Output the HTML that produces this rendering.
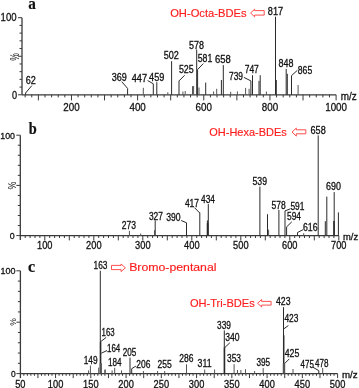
<!DOCTYPE html>
<html><head><meta charset="utf-8"><style>
html,body{margin:0;padding:0;background:#fff;}
svg{display:block;will-change:transform;}
</style></head><body>
<svg width="359" height="388" viewBox="0 0 359 388" shape-rendering="auto">
<rect width="359" height="388" fill="#fff"/>
<line x1="22.00" y1="17.70" x2="22.00" y2="94.80" stroke="#3a3a3a" stroke-width="1.3"/>
<line x1="19.50" y1="87.09" x2="22.00" y2="87.09" stroke="#3a3a3a" stroke-width="1"/>
<line x1="19.50" y1="79.38" x2="22.00" y2="79.38" stroke="#3a3a3a" stroke-width="1"/>
<line x1="19.50" y1="71.67" x2="22.00" y2="71.67" stroke="#3a3a3a" stroke-width="1"/>
<line x1="19.50" y1="63.96" x2="22.00" y2="63.96" stroke="#3a3a3a" stroke-width="1"/>
<line x1="18.00" y1="56.25" x2="22.00" y2="56.25" stroke="#3a3a3a" stroke-width="1"/>
<line x1="19.50" y1="48.54" x2="22.00" y2="48.54" stroke="#3a3a3a" stroke-width="1"/>
<line x1="19.50" y1="40.83" x2="22.00" y2="40.83" stroke="#3a3a3a" stroke-width="1"/>
<line x1="19.50" y1="33.12" x2="22.00" y2="33.12" stroke="#3a3a3a" stroke-width="1"/>
<line x1="19.50" y1="25.41" x2="22.00" y2="25.41" stroke="#3a3a3a" stroke-width="1"/>
<line x1="18.00" y1="17.70" x2="22.00" y2="17.70" stroke="#3a3a3a" stroke-width="1"/>
<line x1="18.00" y1="94.80" x2="22.00" y2="94.80" stroke="#3a3a3a" stroke-width="1"/>
<line x1="22.00" y1="94.80" x2="336.10" y2="94.80" stroke="#3a3a3a" stroke-width="1.3"/>
<line x1="25.15" y1="94.80" x2="25.15" y2="97.40" stroke="#3a3a3a" stroke-width="1"/>
<line x1="31.76" y1="94.80" x2="31.76" y2="97.40" stroke="#3a3a3a" stroke-width="1"/>
<line x1="38.38" y1="94.80" x2="38.38" y2="100.40" stroke="#3a3a3a" stroke-width="1"/>
<line x1="45.00" y1="94.80" x2="45.00" y2="97.40" stroke="#3a3a3a" stroke-width="1"/>
<line x1="51.61" y1="94.80" x2="51.61" y2="97.40" stroke="#3a3a3a" stroke-width="1"/>
<line x1="58.23" y1="94.80" x2="58.23" y2="97.40" stroke="#3a3a3a" stroke-width="1"/>
<line x1="64.84" y1="94.80" x2="64.84" y2="97.40" stroke="#3a3a3a" stroke-width="1"/>
<line x1="71.46" y1="94.80" x2="71.46" y2="100.40" stroke="#3a3a3a" stroke-width="1"/>
<line x1="78.08" y1="94.80" x2="78.08" y2="97.40" stroke="#3a3a3a" stroke-width="1"/>
<line x1="84.69" y1="94.80" x2="84.69" y2="97.40" stroke="#3a3a3a" stroke-width="1"/>
<line x1="91.31" y1="94.80" x2="91.31" y2="97.40" stroke="#3a3a3a" stroke-width="1"/>
<line x1="97.92" y1="94.80" x2="97.92" y2="97.40" stroke="#3a3a3a" stroke-width="1"/>
<line x1="104.54" y1="94.80" x2="104.54" y2="100.40" stroke="#3a3a3a" stroke-width="1"/>
<line x1="111.16" y1="94.80" x2="111.16" y2="97.40" stroke="#3a3a3a" stroke-width="1"/>
<line x1="117.77" y1="94.80" x2="117.77" y2="97.40" stroke="#3a3a3a" stroke-width="1"/>
<line x1="124.39" y1="94.80" x2="124.39" y2="97.40" stroke="#3a3a3a" stroke-width="1"/>
<line x1="131.00" y1="94.80" x2="131.00" y2="97.40" stroke="#3a3a3a" stroke-width="1"/>
<line x1="137.62" y1="94.80" x2="137.62" y2="100.40" stroke="#3a3a3a" stroke-width="1"/>
<line x1="144.24" y1="94.80" x2="144.24" y2="97.40" stroke="#3a3a3a" stroke-width="1"/>
<line x1="150.85" y1="94.80" x2="150.85" y2="97.40" stroke="#3a3a3a" stroke-width="1"/>
<line x1="157.47" y1="94.80" x2="157.47" y2="97.40" stroke="#3a3a3a" stroke-width="1"/>
<line x1="164.08" y1="94.80" x2="164.08" y2="97.40" stroke="#3a3a3a" stroke-width="1"/>
<line x1="170.70" y1="94.80" x2="170.70" y2="100.40" stroke="#3a3a3a" stroke-width="1"/>
<line x1="177.32" y1="94.80" x2="177.32" y2="97.40" stroke="#3a3a3a" stroke-width="1"/>
<line x1="183.93" y1="94.80" x2="183.93" y2="97.40" stroke="#3a3a3a" stroke-width="1"/>
<line x1="190.55" y1="94.80" x2="190.55" y2="97.40" stroke="#3a3a3a" stroke-width="1"/>
<line x1="197.16" y1="94.80" x2="197.16" y2="97.40" stroke="#3a3a3a" stroke-width="1"/>
<line x1="203.78" y1="94.80" x2="203.78" y2="100.40" stroke="#3a3a3a" stroke-width="1"/>
<line x1="210.40" y1="94.80" x2="210.40" y2="97.40" stroke="#3a3a3a" stroke-width="1"/>
<line x1="217.01" y1="94.80" x2="217.01" y2="97.40" stroke="#3a3a3a" stroke-width="1"/>
<line x1="223.63" y1="94.80" x2="223.63" y2="97.40" stroke="#3a3a3a" stroke-width="1"/>
<line x1="230.24" y1="94.80" x2="230.24" y2="97.40" stroke="#3a3a3a" stroke-width="1"/>
<line x1="236.86" y1="94.80" x2="236.86" y2="100.40" stroke="#3a3a3a" stroke-width="1"/>
<line x1="243.48" y1="94.80" x2="243.48" y2="97.40" stroke="#3a3a3a" stroke-width="1"/>
<line x1="250.09" y1="94.80" x2="250.09" y2="97.40" stroke="#3a3a3a" stroke-width="1"/>
<line x1="256.71" y1="94.80" x2="256.71" y2="97.40" stroke="#3a3a3a" stroke-width="1"/>
<line x1="263.32" y1="94.80" x2="263.32" y2="97.40" stroke="#3a3a3a" stroke-width="1"/>
<line x1="269.94" y1="94.80" x2="269.94" y2="100.40" stroke="#3a3a3a" stroke-width="1"/>
<line x1="276.56" y1="94.80" x2="276.56" y2="97.40" stroke="#3a3a3a" stroke-width="1"/>
<line x1="283.17" y1="94.80" x2="283.17" y2="97.40" stroke="#3a3a3a" stroke-width="1"/>
<line x1="289.79" y1="94.80" x2="289.79" y2="97.40" stroke="#3a3a3a" stroke-width="1"/>
<line x1="296.40" y1="94.80" x2="296.40" y2="97.40" stroke="#3a3a3a" stroke-width="1"/>
<line x1="303.02" y1="94.80" x2="303.02" y2="100.40" stroke="#3a3a3a" stroke-width="1"/>
<line x1="309.64" y1="94.80" x2="309.64" y2="97.40" stroke="#3a3a3a" stroke-width="1"/>
<line x1="316.25" y1="94.80" x2="316.25" y2="97.40" stroke="#3a3a3a" stroke-width="1"/>
<line x1="322.87" y1="94.80" x2="322.87" y2="97.40" stroke="#3a3a3a" stroke-width="1"/>
<line x1="329.48" y1="94.80" x2="329.48" y2="97.40" stroke="#3a3a3a" stroke-width="1"/>
<line x1="336.10" y1="94.80" x2="336.10" y2="100.40" stroke="#3a3a3a" stroke-width="1"/>
<text x="63.28" y="110.60" font-family="Liberation Sans" font-size="11.73" font-weight="normal" fill="#111" stroke="#111" stroke-width="0.3" textLength="16.35" lengthAdjust="spacingAndGlyphs">200</text>
<text x="129.44" y="110.60" font-family="Liberation Sans" font-size="11.73" font-weight="normal" fill="#111" stroke="#111" stroke-width="0.3" textLength="16.35" lengthAdjust="spacingAndGlyphs">400</text>
<text x="195.60" y="110.60" font-family="Liberation Sans" font-size="11.73" font-weight="normal" fill="#111" stroke="#111" stroke-width="0.3" textLength="16.35" lengthAdjust="spacingAndGlyphs">600</text>
<text x="261.76" y="110.60" font-family="Liberation Sans" font-size="11.73" font-weight="normal" fill="#111" stroke="#111" stroke-width="0.3" textLength="16.35" lengthAdjust="spacingAndGlyphs">800</text>
<text x="325.20" y="110.60" font-family="Liberation Sans" font-size="11.73" font-weight="normal" fill="#111" stroke="#111" stroke-width="0.3" textLength="21.80" lengthAdjust="spacingAndGlyphs">1000</text>
<text x="0.60" y="21.20" font-family="Liberation Sans" font-size="11.45" font-weight="normal" fill="#111" stroke="#111" stroke-width="0.3" textLength="16.00" lengthAdjust="spacingAndGlyphs">100</text>
<text x="11.90" y="98.60" font-family="Liberation Sans" font-size="11.17" font-weight="normal" fill="#111" stroke="#111" stroke-width="0.3" textLength="5.10" lengthAdjust="spacingAndGlyphs">0</text>
<text transform="translate(18.7,57.0) rotate(-90)" font-family="Liberation Sans" font-size="12.1" fill="#111" x="-3.80" y="0" textLength="7.6" lengthAdjust="spacingAndGlyphs">%</text>
<text x="340.80" y="99.80" font-family="Liberation Sans" font-size="11" font-weight="normal" fill="#111" stroke="#111" stroke-width="0.3" textLength="16.00" lengthAdjust="spacingAndGlyphs">m/z</text>
<text x="28.30" y="8.50" font-family="Liberation Serif" font-size="16.5" font-weight="bold" fill="#111" stroke="#111" stroke-width="0.2" textLength="7.60" lengthAdjust="spacingAndGlyphs">a</text>
<line x1="143.30" y1="87.80" x2="143.30" y2="94.80" stroke="#555" stroke-width="1.0"/>
<line x1="156.80" y1="82.20" x2="156.80" y2="94.80" stroke="#2a2a2a" stroke-width="1.0"/>
<line x1="167.80" y1="92.30" x2="167.80" y2="94.80" stroke="#555" stroke-width="1.0"/>
<line x1="171.60" y1="61.20" x2="171.60" y2="94.80" stroke="#2a2a2a" stroke-width="1.0"/>
<line x1="182.90" y1="91.50" x2="182.90" y2="94.80" stroke="#555" stroke-width="1.0"/>
<line x1="185.20" y1="91.00" x2="185.20" y2="94.80" stroke="#555" stroke-width="1.0"/>
<line x1="192.50" y1="86.20" x2="192.50" y2="94.80" stroke="#555" stroke-width="1.0"/>
<line x1="193.60" y1="86.00" x2="193.60" y2="94.80" stroke="#555" stroke-width="1.0"/>
<line x1="196.70" y1="49.60" x2="196.70" y2="94.80" stroke="#2a2a2a" stroke-width="1.0"/>
<line x1="199.00" y1="87.50" x2="199.00" y2="94.80" stroke="#555" stroke-width="1.0"/>
<line x1="205.70" y1="82.60" x2="205.70" y2="94.80" stroke="#2a2a2a" stroke-width="1.0"/>
<line x1="213.60" y1="91.40" x2="213.60" y2="94.80" stroke="#555" stroke-width="1.0"/>
<line x1="216.70" y1="88.80" x2="216.70" y2="94.80" stroke="#555" stroke-width="1.0"/>
<line x1="221.40" y1="80.00" x2="221.40" y2="94.80" stroke="#2a2a2a" stroke-width="1.0"/>
<line x1="223.30" y1="65.10" x2="223.30" y2="94.80" stroke="#2a2a2a" stroke-width="1.0"/>
<line x1="230.70" y1="91.80" x2="230.70" y2="94.80" stroke="#555" stroke-width="1.0"/>
<line x1="237.40" y1="91.40" x2="237.40" y2="94.80" stroke="#555" stroke-width="1.0"/>
<line x1="245.60" y1="87.90" x2="245.60" y2="94.80" stroke="#555" stroke-width="1.0"/>
<line x1="249.10" y1="88.80" x2="249.10" y2="94.80" stroke="#555" stroke-width="1.0"/>
<line x1="252.50" y1="75.20" x2="252.50" y2="94.80" stroke="#2a2a2a" stroke-width="1.0"/>
<line x1="259.00" y1="80.80" x2="259.00" y2="94.80" stroke="#2a2a2a" stroke-width="1.0"/>
<line x1="260.20" y1="75.20" x2="260.20" y2="94.80" stroke="#2a2a2a" stroke-width="1.0"/>
<line x1="266.40" y1="91.50" x2="266.40" y2="94.80" stroke="#555" stroke-width="1.0"/>
<line x1="276.30" y1="80.00" x2="276.30" y2="94.80" stroke="#2a2a2a" stroke-width="1.0"/>
<line x1="275.50" y1="16.70" x2="275.50" y2="94.80" stroke="#2a2a2a" stroke-width="1.0"/>
<line x1="286.20" y1="68.90" x2="286.20" y2="94.80" stroke="#2a2a2a" stroke-width="1.0"/>
<line x1="287.30" y1="73.80" x2="287.30" y2="94.80" stroke="#2a2a2a" stroke-width="1.0"/>
<line x1="298.10" y1="85.00" x2="298.10" y2="94.80" stroke="#555" stroke-width="1.0"/>
<polyline points="31.80,85.60 25.60,93.00 25.60,94.80" fill="none" stroke="#2a2a2a" stroke-width="1.0"/>
<polyline points="121.70,81.70 127.60,88.40 127.60,94.80" fill="none" stroke="#2a2a2a" stroke-width="1.0"/>
<polyline points="147.60,80.50 153.30,83.80 153.30,94.80" fill="none" stroke="#2a2a2a" stroke-width="1.0"/>
<polyline points="184.60,75.30 179.00,80.90 179.00,94.80" fill="none" stroke="#2a2a2a" stroke-width="1.0"/>
<polyline points="203.30,63.60 197.60,69.50 197.60,94.80" fill="none" stroke="#2a2a2a" stroke-width="1.0"/>
<polyline points="243.90,77.40 250.90,80.90 250.90,94.80" fill="none" stroke="#2a2a2a" stroke-width="1.0"/>
<polyline points="297.40,70.30 291.50,75.60 291.50,94.80" fill="none" stroke="#2a2a2a" stroke-width="1.0"/>
<text x="25.80" y="84.45" font-family="Liberation Sans" font-size="10.2" font-weight="normal" fill="#111" stroke="#111" stroke-width="0.3" textLength="10.10" lengthAdjust="spacingAndGlyphs">62</text>
<text x="111.70" y="80.60" font-family="Liberation Sans" font-size="10.2" font-weight="normal" fill="#111" stroke="#111" stroke-width="0.3" textLength="15.10" lengthAdjust="spacingAndGlyphs">369</text>
<text x="131.70" y="82.30" font-family="Liberation Sans" font-size="10.2" font-weight="normal" fill="#111" stroke="#111" stroke-width="0.3" textLength="15.30" lengthAdjust="spacingAndGlyphs">447</text>
<text x="149.10" y="80.95" font-family="Liberation Sans" font-size="10.2" font-weight="normal" fill="#111" stroke="#111" stroke-width="0.3" textLength="15.30" lengthAdjust="spacingAndGlyphs">459</text>
<text x="163.80" y="59.10" font-family="Liberation Sans" font-size="10.2" font-weight="normal" fill="#111" stroke="#111" stroke-width="0.3" textLength="15.10" lengthAdjust="spacingAndGlyphs">502</text>
<text x="178.90" y="72.95" font-family="Liberation Sans" font-size="10.2" font-weight="normal" fill="#111" stroke="#111" stroke-width="0.3" textLength="14.80" lengthAdjust="spacingAndGlyphs">525</text>
<text x="189.00" y="48.80" font-family="Liberation Sans" font-size="10.2" font-weight="normal" fill="#111" stroke="#111" stroke-width="0.3" textLength="14.90" lengthAdjust="spacingAndGlyphs">578</text>
<text x="197.70" y="62.00" font-family="Liberation Sans" font-size="10.2" font-weight="normal" fill="#111" stroke="#111" stroke-width="0.3" textLength="14.60" lengthAdjust="spacingAndGlyphs">581</text>
<text x="214.90" y="63.30" font-family="Liberation Sans" font-size="10.2" font-weight="normal" fill="#111" stroke="#111" stroke-width="0.3" textLength="15.80" lengthAdjust="spacingAndGlyphs">658</text>
<text x="229.00" y="79.50" font-family="Liberation Sans" font-size="10.2" font-weight="normal" fill="#111" stroke="#111" stroke-width="0.3" textLength="14.00" lengthAdjust="spacingAndGlyphs">739</text>
<text x="244.70" y="73.40" font-family="Liberation Sans" font-size="10.2" font-weight="normal" fill="#111" stroke="#111" stroke-width="0.3" textLength="14.10" lengthAdjust="spacingAndGlyphs">747</text>
<text x="267.80" y="15.45" font-family="Liberation Sans" font-size="10.2" font-weight="normal" fill="#111" stroke="#111" stroke-width="0.3" textLength="15.30" lengthAdjust="spacingAndGlyphs">817</text>
<text x="278.60" y="67.00" font-family="Liberation Sans" font-size="10.2" font-weight="normal" fill="#111" stroke="#111" stroke-width="0.3" textLength="14.90" lengthAdjust="spacingAndGlyphs">848</text>
<text x="297.80" y="74.30" font-family="Liberation Sans" font-size="10.2" font-weight="normal" fill="#111" stroke="#111" stroke-width="0.3" textLength="14.40" lengthAdjust="spacingAndGlyphs">865</text>
<text x="170.20" y="16.60" font-family="Liberation Sans" font-size="11.3" font-weight="normal" fill="#ff1c1c" stroke="#ff1c1c" stroke-width="0.15" textLength="76.30" lengthAdjust="spacingAndGlyphs">OH-Octa-BDEs</text>
<polygon points="250.60,13.00 254.60,9.20 254.60,10.60 264.20,10.60 264.20,15.10 254.60,15.10 254.60,16.80" fill="#fff" stroke="#ff3a3a" stroke-width="0.9" stroke-linejoin="miter"/>
<line x1="20.30" y1="135.20" x2="20.30" y2="240.10" stroke="#3a3a3a" stroke-width="1.3"/>
<line x1="17.80" y1="225.56" x2="20.30" y2="225.56" stroke="#3a3a3a" stroke-width="1"/>
<line x1="17.80" y1="215.52" x2="20.30" y2="215.52" stroke="#3a3a3a" stroke-width="1"/>
<line x1="17.80" y1="205.48" x2="20.30" y2="205.48" stroke="#3a3a3a" stroke-width="1"/>
<line x1="17.80" y1="195.44" x2="20.30" y2="195.44" stroke="#3a3a3a" stroke-width="1"/>
<line x1="16.30" y1="185.40" x2="20.30" y2="185.40" stroke="#3a3a3a" stroke-width="1"/>
<line x1="17.80" y1="175.36" x2="20.30" y2="175.36" stroke="#3a3a3a" stroke-width="1"/>
<line x1="17.80" y1="165.32" x2="20.30" y2="165.32" stroke="#3a3a3a" stroke-width="1"/>
<line x1="17.80" y1="155.28" x2="20.30" y2="155.28" stroke="#3a3a3a" stroke-width="1"/>
<line x1="17.80" y1="145.24" x2="20.30" y2="145.24" stroke="#3a3a3a" stroke-width="1"/>
<line x1="16.30" y1="135.20" x2="20.30" y2="135.20" stroke="#3a3a3a" stroke-width="1"/>
<line x1="16.30" y1="235.60" x2="20.30" y2="235.60" stroke="#3a3a3a" stroke-width="1"/>
<line x1="20.30" y1="235.60" x2="338.80" y2="235.60" stroke="#3a3a3a" stroke-width="1.3"/>
<line x1="25.20" y1="235.60" x2="25.20" y2="238.00" stroke="#3a3a3a" stroke-width="1"/>
<line x1="30.10" y1="235.60" x2="30.10" y2="238.00" stroke="#3a3a3a" stroke-width="1"/>
<line x1="35.00" y1="235.60" x2="35.00" y2="238.00" stroke="#3a3a3a" stroke-width="1"/>
<line x1="39.90" y1="235.60" x2="39.90" y2="238.00" stroke="#3a3a3a" stroke-width="1"/>
<line x1="44.80" y1="235.60" x2="44.80" y2="240.40" stroke="#3a3a3a" stroke-width="1"/>
<line x1="49.70" y1="235.60" x2="49.70" y2="238.00" stroke="#3a3a3a" stroke-width="1"/>
<line x1="54.60" y1="235.60" x2="54.60" y2="238.00" stroke="#3a3a3a" stroke-width="1"/>
<line x1="59.50" y1="235.60" x2="59.50" y2="238.00" stroke="#3a3a3a" stroke-width="1"/>
<line x1="64.40" y1="235.60" x2="64.40" y2="238.00" stroke="#3a3a3a" stroke-width="1"/>
<line x1="69.30" y1="235.60" x2="69.30" y2="240.40" stroke="#3a3a3a" stroke-width="1"/>
<line x1="74.20" y1="235.60" x2="74.20" y2="238.00" stroke="#3a3a3a" stroke-width="1"/>
<line x1="79.10" y1="235.60" x2="79.10" y2="238.00" stroke="#3a3a3a" stroke-width="1"/>
<line x1="84.00" y1="235.60" x2="84.00" y2="238.00" stroke="#3a3a3a" stroke-width="1"/>
<line x1="88.90" y1="235.60" x2="88.90" y2="238.00" stroke="#3a3a3a" stroke-width="1"/>
<line x1="93.80" y1="235.60" x2="93.80" y2="240.40" stroke="#3a3a3a" stroke-width="1"/>
<line x1="98.70" y1="235.60" x2="98.70" y2="238.00" stroke="#3a3a3a" stroke-width="1"/>
<line x1="103.60" y1="235.60" x2="103.60" y2="238.00" stroke="#3a3a3a" stroke-width="1"/>
<line x1="108.50" y1="235.60" x2="108.50" y2="238.00" stroke="#3a3a3a" stroke-width="1"/>
<line x1="113.40" y1="235.60" x2="113.40" y2="238.00" stroke="#3a3a3a" stroke-width="1"/>
<line x1="118.30" y1="235.60" x2="118.30" y2="240.40" stroke="#3a3a3a" stroke-width="1"/>
<line x1="123.20" y1="235.60" x2="123.20" y2="238.00" stroke="#3a3a3a" stroke-width="1"/>
<line x1="128.10" y1="235.60" x2="128.10" y2="238.00" stroke="#3a3a3a" stroke-width="1"/>
<line x1="133.00" y1="235.60" x2="133.00" y2="238.00" stroke="#3a3a3a" stroke-width="1"/>
<line x1="137.90" y1="235.60" x2="137.90" y2="238.00" stroke="#3a3a3a" stroke-width="1"/>
<line x1="142.80" y1="235.60" x2="142.80" y2="240.40" stroke="#3a3a3a" stroke-width="1"/>
<line x1="147.70" y1="235.60" x2="147.70" y2="238.00" stroke="#3a3a3a" stroke-width="1"/>
<line x1="152.60" y1="235.60" x2="152.60" y2="238.00" stroke="#3a3a3a" stroke-width="1"/>
<line x1="157.50" y1="235.60" x2="157.50" y2="238.00" stroke="#3a3a3a" stroke-width="1"/>
<line x1="162.40" y1="235.60" x2="162.40" y2="238.00" stroke="#3a3a3a" stroke-width="1"/>
<line x1="167.30" y1="235.60" x2="167.30" y2="240.40" stroke="#3a3a3a" stroke-width="1"/>
<line x1="172.20" y1="235.60" x2="172.20" y2="238.00" stroke="#3a3a3a" stroke-width="1"/>
<line x1="177.10" y1="235.60" x2="177.10" y2="238.00" stroke="#3a3a3a" stroke-width="1"/>
<line x1="182.00" y1="235.60" x2="182.00" y2="238.00" stroke="#3a3a3a" stroke-width="1"/>
<line x1="186.90" y1="235.60" x2="186.90" y2="238.00" stroke="#3a3a3a" stroke-width="1"/>
<line x1="191.80" y1="235.60" x2="191.80" y2="240.40" stroke="#3a3a3a" stroke-width="1"/>
<line x1="196.70" y1="235.60" x2="196.70" y2="238.00" stroke="#3a3a3a" stroke-width="1"/>
<line x1="201.60" y1="235.60" x2="201.60" y2="238.00" stroke="#3a3a3a" stroke-width="1"/>
<line x1="206.50" y1="235.60" x2="206.50" y2="238.00" stroke="#3a3a3a" stroke-width="1"/>
<line x1="211.40" y1="235.60" x2="211.40" y2="238.00" stroke="#3a3a3a" stroke-width="1"/>
<line x1="216.30" y1="235.60" x2="216.30" y2="240.40" stroke="#3a3a3a" stroke-width="1"/>
<line x1="221.20" y1="235.60" x2="221.20" y2="238.00" stroke="#3a3a3a" stroke-width="1"/>
<line x1="226.10" y1="235.60" x2="226.10" y2="238.00" stroke="#3a3a3a" stroke-width="1"/>
<line x1="231.00" y1="235.60" x2="231.00" y2="238.00" stroke="#3a3a3a" stroke-width="1"/>
<line x1="235.90" y1="235.60" x2="235.90" y2="238.00" stroke="#3a3a3a" stroke-width="1"/>
<line x1="240.80" y1="235.60" x2="240.80" y2="240.40" stroke="#3a3a3a" stroke-width="1"/>
<line x1="245.70" y1="235.60" x2="245.70" y2="238.00" stroke="#3a3a3a" stroke-width="1"/>
<line x1="250.60" y1="235.60" x2="250.60" y2="238.00" stroke="#3a3a3a" stroke-width="1"/>
<line x1="255.50" y1="235.60" x2="255.50" y2="238.00" stroke="#3a3a3a" stroke-width="1"/>
<line x1="260.40" y1="235.60" x2="260.40" y2="238.00" stroke="#3a3a3a" stroke-width="1"/>
<line x1="265.30" y1="235.60" x2="265.30" y2="240.40" stroke="#3a3a3a" stroke-width="1"/>
<line x1="270.20" y1="235.60" x2="270.20" y2="238.00" stroke="#3a3a3a" stroke-width="1"/>
<line x1="275.10" y1="235.60" x2="275.10" y2="238.00" stroke="#3a3a3a" stroke-width="1"/>
<line x1="280.00" y1="235.60" x2="280.00" y2="238.00" stroke="#3a3a3a" stroke-width="1"/>
<line x1="284.90" y1="235.60" x2="284.90" y2="238.00" stroke="#3a3a3a" stroke-width="1"/>
<line x1="289.80" y1="235.60" x2="289.80" y2="240.40" stroke="#3a3a3a" stroke-width="1"/>
<line x1="294.70" y1="235.60" x2="294.70" y2="238.00" stroke="#3a3a3a" stroke-width="1"/>
<line x1="299.60" y1="235.60" x2="299.60" y2="238.00" stroke="#3a3a3a" stroke-width="1"/>
<line x1="304.50" y1="235.60" x2="304.50" y2="238.00" stroke="#3a3a3a" stroke-width="1"/>
<line x1="309.40" y1="235.60" x2="309.40" y2="238.00" stroke="#3a3a3a" stroke-width="1"/>
<line x1="314.30" y1="235.60" x2="314.30" y2="240.40" stroke="#3a3a3a" stroke-width="1"/>
<line x1="319.20" y1="235.60" x2="319.20" y2="238.00" stroke="#3a3a3a" stroke-width="1"/>
<line x1="324.10" y1="235.60" x2="324.10" y2="238.00" stroke="#3a3a3a" stroke-width="1"/>
<line x1="329.00" y1="235.60" x2="329.00" y2="238.00" stroke="#3a3a3a" stroke-width="1"/>
<line x1="333.90" y1="235.60" x2="333.90" y2="238.00" stroke="#3a3a3a" stroke-width="1"/>
<line x1="338.80" y1="235.60" x2="338.80" y2="240.40" stroke="#3a3a3a" stroke-width="1"/>
<text x="37.07" y="249.40" font-family="Liberation Sans" font-size="10.61" font-weight="normal" fill="#111" stroke="#111" stroke-width="0.3" textLength="15.45" lengthAdjust="spacingAndGlyphs">100</text>
<text x="86.08" y="249.40" font-family="Liberation Sans" font-size="10.61" font-weight="normal" fill="#111" stroke="#111" stroke-width="0.3" textLength="15.45" lengthAdjust="spacingAndGlyphs">200</text>
<text x="135.08" y="249.40" font-family="Liberation Sans" font-size="10.61" font-weight="normal" fill="#111" stroke="#111" stroke-width="0.3" textLength="15.45" lengthAdjust="spacingAndGlyphs">300</text>
<text x="184.08" y="249.40" font-family="Liberation Sans" font-size="10.61" font-weight="normal" fill="#111" stroke="#111" stroke-width="0.3" textLength="15.45" lengthAdjust="spacingAndGlyphs">400</text>
<text x="233.08" y="249.40" font-family="Liberation Sans" font-size="10.61" font-weight="normal" fill="#111" stroke="#111" stroke-width="0.3" textLength="15.45" lengthAdjust="spacingAndGlyphs">500</text>
<text x="282.07" y="249.40" font-family="Liberation Sans" font-size="10.61" font-weight="normal" fill="#111" stroke="#111" stroke-width="0.3" textLength="15.45" lengthAdjust="spacingAndGlyphs">600</text>
<text x="331.07" y="249.40" font-family="Liberation Sans" font-size="10.61" font-weight="normal" fill="#111" stroke="#111" stroke-width="0.3" textLength="15.45" lengthAdjust="spacingAndGlyphs">700</text>
<text x="0.30" y="138.90" font-family="Liberation Sans" font-size="9.36" font-weight="normal" fill="#111" stroke="#111" stroke-width="0.3" textLength="14.70" lengthAdjust="spacingAndGlyphs">100</text>
<text x="9.80" y="239.20" font-family="Liberation Sans" font-size="9.64" font-weight="normal" fill="#111" stroke="#111" stroke-width="0.3" textLength="4.90" lengthAdjust="spacingAndGlyphs">0</text>
<text transform="translate(15.7,185.55) rotate(-90)" font-family="Liberation Sans" font-size="10.0" fill="#111" x="-3.95" y="0" textLength="7.9" lengthAdjust="spacingAndGlyphs">%</text>
<text x="343.00" y="240.10" font-family="Liberation Sans" font-size="9.8" font-weight="normal" fill="#111" stroke="#111" stroke-width="0.3" textLength="15.10" lengthAdjust="spacingAndGlyphs">m/z</text>
<text x="28.70" y="133.70" font-family="Liberation Serif" font-size="16.5" font-weight="bold" fill="#111" stroke="#111" stroke-width="0.2" textLength="8.00" lengthAdjust="spacingAndGlyphs">b</text>
<line x1="129.40" y1="230.80" x2="129.40" y2="235.60" stroke="#555" stroke-width="1.0"/>
<line x1="154.60" y1="230.20" x2="154.60" y2="235.60" stroke="#555" stroke-width="1.0"/>
<line x1="140.70" y1="233.50" x2="140.70" y2="235.60" stroke="#555" stroke-width="1.0"/>
<line x1="155.20" y1="220.50" x2="155.20" y2="235.60" stroke="#2a2a2a" stroke-width="1.0"/>
<line x1="199.80" y1="212.60" x2="199.80" y2="235.60" stroke="#2a2a2a" stroke-width="1.0"/>
<line x1="207.40" y1="220.40" x2="207.40" y2="235.60" stroke="#2a2a2a" stroke-width="1.0"/>
<line x1="208.30" y1="204.10" x2="208.30" y2="235.60" stroke="#2a2a2a" stroke-width="1.0"/>
<line x1="259.90" y1="186.60" x2="259.90" y2="235.60" stroke="#2a2a2a" stroke-width="1.0"/>
<line x1="267.50" y1="214.20" x2="267.50" y2="235.60" stroke="#2a2a2a" stroke-width="1.0"/>
<line x1="268.60" y1="229.60" x2="268.60" y2="235.60" stroke="#555" stroke-width="1.0"/>
<line x1="278.90" y1="210.00" x2="278.90" y2="235.60" stroke="#2a2a2a" stroke-width="1.0"/>
<line x1="303.70" y1="233.20" x2="303.70" y2="235.60" stroke="#555" stroke-width="1.0"/>
<line x1="318.20" y1="135.40" x2="318.20" y2="235.60" stroke="#2a2a2a" stroke-width="1.0"/>
<line x1="325.30" y1="221.20" x2="325.30" y2="235.60" stroke="#2a2a2a" stroke-width="1.0"/>
<line x1="326.80" y1="196.60" x2="326.80" y2="235.60" stroke="#2a2a2a" stroke-width="1.0"/>
<line x1="334.20" y1="192.10" x2="334.20" y2="235.60" stroke="#2a2a2a" stroke-width="1.0"/>
<line x1="338.40" y1="212.40" x2="338.40" y2="235.60" stroke="#2a2a2a" stroke-width="1.0"/>
<line x1="207.60" y1="223.20" x2="207.60" y2="235.60" stroke="#2a2a2a" stroke-width="1.6"/>
<line x1="334.00" y1="221.00" x2="334.00" y2="235.60" stroke="#2a2a2a" stroke-width="1.6"/>
<polyline points="181.20,220.50 186.50,222.80 186.50,235.60" fill="none" stroke="#2a2a2a" stroke-width="1.0"/>
<polyline points="194.40,207.60 199.80,213.00" fill="none" stroke="#2a2a2a" stroke-width="1.0"/>
<polyline points="290.40,208.80 285.00,210.90 285.00,235.60" fill="none" stroke="#2a2a2a" stroke-width="1.0"/>
<polyline points="291.80,221.80 286.60,226.90 286.60,235.60" fill="none" stroke="#2a2a2a" stroke-width="1.0"/>
<polyline points="303.00,229.70 297.50,232.50 297.50,235.60" fill="none" stroke="#2a2a2a" stroke-width="1.0"/>
<text x="121.80" y="229.05" font-family="Liberation Sans" font-size="10.06" font-weight="normal" fill="#111" stroke="#111" stroke-width="0.3" textLength="14.20" lengthAdjust="spacingAndGlyphs">273</text>
<text x="148.90" y="219.60" font-family="Liberation Sans" font-size="10.06" font-weight="normal" fill="#111" stroke="#111" stroke-width="0.3" textLength="14.00" lengthAdjust="spacingAndGlyphs">327</text>
<text x="166.20" y="221.45" font-family="Liberation Sans" font-size="10.06" font-weight="normal" fill="#111" stroke="#111" stroke-width="0.3" textLength="14.40" lengthAdjust="spacingAndGlyphs">390</text>
<text x="184.90" y="206.70" font-family="Liberation Sans" font-size="10.06" font-weight="normal" fill="#111" stroke="#111" stroke-width="0.3" textLength="14.20" lengthAdjust="spacingAndGlyphs">417</text>
<text x="201.00" y="203.10" font-family="Liberation Sans" font-size="10.06" font-weight="normal" fill="#111" stroke="#111" stroke-width="0.3" textLength="13.90" lengthAdjust="spacingAndGlyphs">434</text>
<text x="252.50" y="184.70" font-family="Liberation Sans" font-size="10.06" font-weight="normal" fill="#111" stroke="#111" stroke-width="0.3" textLength="14.50" lengthAdjust="spacingAndGlyphs">539</text>
<text x="271.60" y="208.80" font-family="Liberation Sans" font-size="10.06" font-weight="normal" fill="#111" stroke="#111" stroke-width="0.3" textLength="14.20" lengthAdjust="spacingAndGlyphs">578</text>
<text x="290.40" y="209.95" font-family="Liberation Sans" font-size="10.06" font-weight="normal" fill="#111" stroke="#111" stroke-width="0.3" textLength="14.00" lengthAdjust="spacingAndGlyphs">591</text>
<text x="287.00" y="220.10" font-family="Liberation Sans" font-size="10.06" font-weight="normal" fill="#111" stroke="#111" stroke-width="0.3" textLength="14.00" lengthAdjust="spacingAndGlyphs">594</text>
<text x="303.00" y="230.50" font-family="Liberation Sans" font-size="10.06" font-weight="normal" fill="#111" stroke="#111" stroke-width="0.3" textLength="14.60" lengthAdjust="spacingAndGlyphs">616</text>
<text x="310.50" y="134.10" font-family="Liberation Sans" font-size="10.06" font-weight="normal" fill="#111" stroke="#111" stroke-width="0.3" textLength="15.20" lengthAdjust="spacingAndGlyphs">658</text>
<text x="326.10" y="190.35" font-family="Liberation Sans" font-size="10.06" font-weight="normal" fill="#111" stroke="#111" stroke-width="0.3" textLength="14.90" lengthAdjust="spacingAndGlyphs">690</text>
<text x="209.30" y="135.50" font-family="Liberation Sans" font-size="10.8" font-weight="normal" fill="#ff1c1c" stroke="#ff1c1c" stroke-width="0.15" textLength="77.50" lengthAdjust="spacingAndGlyphs">OH-Hexa-BDEs</text>
<polygon points="292.00,132.10 296.30,128.10 296.30,129.80 305.80,129.80 305.80,133.80 296.30,133.80 296.30,136.10" fill="#fff" stroke="#ff3a3a" stroke-width="0.9" stroke-linejoin="miter"/>
<line x1="20.40" y1="270.80" x2="20.40" y2="378.10" stroke="#3a3a3a" stroke-width="1.3"/>
<line x1="17.90" y1="363.32" x2="20.40" y2="363.32" stroke="#3a3a3a" stroke-width="1"/>
<line x1="17.90" y1="353.04" x2="20.40" y2="353.04" stroke="#3a3a3a" stroke-width="1"/>
<line x1="17.90" y1="342.76" x2="20.40" y2="342.76" stroke="#3a3a3a" stroke-width="1"/>
<line x1="17.90" y1="332.48" x2="20.40" y2="332.48" stroke="#3a3a3a" stroke-width="1"/>
<line x1="16.40" y1="322.20" x2="20.40" y2="322.20" stroke="#3a3a3a" stroke-width="1"/>
<line x1="17.90" y1="311.92" x2="20.40" y2="311.92" stroke="#3a3a3a" stroke-width="1"/>
<line x1="17.90" y1="301.64" x2="20.40" y2="301.64" stroke="#3a3a3a" stroke-width="1"/>
<line x1="17.90" y1="291.36" x2="20.40" y2="291.36" stroke="#3a3a3a" stroke-width="1"/>
<line x1="17.90" y1="281.08" x2="20.40" y2="281.08" stroke="#3a3a3a" stroke-width="1"/>
<line x1="16.40" y1="270.80" x2="20.40" y2="270.80" stroke="#3a3a3a" stroke-width="1"/>
<line x1="16.40" y1="373.60" x2="20.40" y2="373.60" stroke="#3a3a3a" stroke-width="1"/>
<line x1="20.40" y1="373.60" x2="337.60" y2="373.60" stroke="#3a3a3a" stroke-width="1.3"/>
<line x1="23.83" y1="373.60" x2="23.83" y2="375.80" stroke="#3a3a3a" stroke-width="1"/>
<line x1="27.36" y1="373.60" x2="27.36" y2="375.80" stroke="#3a3a3a" stroke-width="1"/>
<line x1="30.88" y1="373.60" x2="30.88" y2="375.80" stroke="#3a3a3a" stroke-width="1"/>
<line x1="34.41" y1="373.60" x2="34.41" y2="375.80" stroke="#3a3a3a" stroke-width="1"/>
<line x1="37.93" y1="373.60" x2="37.93" y2="378.10" stroke="#3a3a3a" stroke-width="1"/>
<line x1="41.46" y1="373.60" x2="41.46" y2="375.80" stroke="#3a3a3a" stroke-width="1"/>
<line x1="44.98" y1="373.60" x2="44.98" y2="375.80" stroke="#3a3a3a" stroke-width="1"/>
<line x1="48.51" y1="373.60" x2="48.51" y2="375.80" stroke="#3a3a3a" stroke-width="1"/>
<line x1="52.03" y1="373.60" x2="52.03" y2="375.80" stroke="#3a3a3a" stroke-width="1"/>
<line x1="55.56" y1="373.60" x2="55.56" y2="378.10" stroke="#3a3a3a" stroke-width="1"/>
<line x1="59.09" y1="373.60" x2="59.09" y2="375.80" stroke="#3a3a3a" stroke-width="1"/>
<line x1="62.61" y1="373.60" x2="62.61" y2="375.80" stroke="#3a3a3a" stroke-width="1"/>
<line x1="66.14" y1="373.60" x2="66.14" y2="375.80" stroke="#3a3a3a" stroke-width="1"/>
<line x1="69.66" y1="373.60" x2="69.66" y2="375.80" stroke="#3a3a3a" stroke-width="1"/>
<line x1="73.19" y1="373.60" x2="73.19" y2="378.10" stroke="#3a3a3a" stroke-width="1"/>
<line x1="76.71" y1="373.60" x2="76.71" y2="375.80" stroke="#3a3a3a" stroke-width="1"/>
<line x1="80.24" y1="373.60" x2="80.24" y2="375.80" stroke="#3a3a3a" stroke-width="1"/>
<line x1="83.76" y1="373.60" x2="83.76" y2="375.80" stroke="#3a3a3a" stroke-width="1"/>
<line x1="87.29" y1="373.60" x2="87.29" y2="375.80" stroke="#3a3a3a" stroke-width="1"/>
<line x1="90.81" y1="373.60" x2="90.81" y2="378.10" stroke="#3a3a3a" stroke-width="1"/>
<line x1="94.34" y1="373.60" x2="94.34" y2="375.80" stroke="#3a3a3a" stroke-width="1"/>
<line x1="97.87" y1="373.60" x2="97.87" y2="375.80" stroke="#3a3a3a" stroke-width="1"/>
<line x1="101.39" y1="373.60" x2="101.39" y2="375.80" stroke="#3a3a3a" stroke-width="1"/>
<line x1="104.92" y1="373.60" x2="104.92" y2="375.80" stroke="#3a3a3a" stroke-width="1"/>
<line x1="108.44" y1="373.60" x2="108.44" y2="378.10" stroke="#3a3a3a" stroke-width="1"/>
<line x1="111.97" y1="373.60" x2="111.97" y2="375.80" stroke="#3a3a3a" stroke-width="1"/>
<line x1="115.49" y1="373.60" x2="115.49" y2="375.80" stroke="#3a3a3a" stroke-width="1"/>
<line x1="119.02" y1="373.60" x2="119.02" y2="375.80" stroke="#3a3a3a" stroke-width="1"/>
<line x1="122.54" y1="373.60" x2="122.54" y2="375.80" stroke="#3a3a3a" stroke-width="1"/>
<line x1="126.07" y1="373.60" x2="126.07" y2="378.10" stroke="#3a3a3a" stroke-width="1"/>
<line x1="129.60" y1="373.60" x2="129.60" y2="375.80" stroke="#3a3a3a" stroke-width="1"/>
<line x1="133.12" y1="373.60" x2="133.12" y2="375.80" stroke="#3a3a3a" stroke-width="1"/>
<line x1="136.65" y1="373.60" x2="136.65" y2="375.80" stroke="#3a3a3a" stroke-width="1"/>
<line x1="140.17" y1="373.60" x2="140.17" y2="375.80" stroke="#3a3a3a" stroke-width="1"/>
<line x1="143.70" y1="373.60" x2="143.70" y2="378.10" stroke="#3a3a3a" stroke-width="1"/>
<line x1="147.22" y1="373.60" x2="147.22" y2="375.80" stroke="#3a3a3a" stroke-width="1"/>
<line x1="150.75" y1="373.60" x2="150.75" y2="375.80" stroke="#3a3a3a" stroke-width="1"/>
<line x1="154.27" y1="373.60" x2="154.27" y2="375.80" stroke="#3a3a3a" stroke-width="1"/>
<line x1="157.80" y1="373.60" x2="157.80" y2="375.80" stroke="#3a3a3a" stroke-width="1"/>
<line x1="161.32" y1="373.60" x2="161.32" y2="378.10" stroke="#3a3a3a" stroke-width="1"/>
<line x1="164.85" y1="373.60" x2="164.85" y2="375.80" stroke="#3a3a3a" stroke-width="1"/>
<line x1="168.38" y1="373.60" x2="168.38" y2="375.80" stroke="#3a3a3a" stroke-width="1"/>
<line x1="171.90" y1="373.60" x2="171.90" y2="375.80" stroke="#3a3a3a" stroke-width="1"/>
<line x1="175.43" y1="373.60" x2="175.43" y2="375.80" stroke="#3a3a3a" stroke-width="1"/>
<line x1="178.95" y1="373.60" x2="178.95" y2="378.10" stroke="#3a3a3a" stroke-width="1"/>
<line x1="182.48" y1="373.60" x2="182.48" y2="375.80" stroke="#3a3a3a" stroke-width="1"/>
<line x1="186.00" y1="373.60" x2="186.00" y2="375.80" stroke="#3a3a3a" stroke-width="1"/>
<line x1="189.53" y1="373.60" x2="189.53" y2="375.80" stroke="#3a3a3a" stroke-width="1"/>
<line x1="193.05" y1="373.60" x2="193.05" y2="375.80" stroke="#3a3a3a" stroke-width="1"/>
<line x1="196.58" y1="373.60" x2="196.58" y2="378.10" stroke="#3a3a3a" stroke-width="1"/>
<line x1="200.11" y1="373.60" x2="200.11" y2="375.80" stroke="#3a3a3a" stroke-width="1"/>
<line x1="203.63" y1="373.60" x2="203.63" y2="375.80" stroke="#3a3a3a" stroke-width="1"/>
<line x1="207.16" y1="373.60" x2="207.16" y2="375.80" stroke="#3a3a3a" stroke-width="1"/>
<line x1="210.68" y1="373.60" x2="210.68" y2="375.80" stroke="#3a3a3a" stroke-width="1"/>
<line x1="214.21" y1="373.60" x2="214.21" y2="378.10" stroke="#3a3a3a" stroke-width="1"/>
<line x1="217.73" y1="373.60" x2="217.73" y2="375.80" stroke="#3a3a3a" stroke-width="1"/>
<line x1="221.26" y1="373.60" x2="221.26" y2="375.80" stroke="#3a3a3a" stroke-width="1"/>
<line x1="224.78" y1="373.60" x2="224.78" y2="375.80" stroke="#3a3a3a" stroke-width="1"/>
<line x1="228.31" y1="373.60" x2="228.31" y2="375.80" stroke="#3a3a3a" stroke-width="1"/>
<line x1="231.83" y1="373.60" x2="231.83" y2="378.10" stroke="#3a3a3a" stroke-width="1"/>
<line x1="235.36" y1="373.60" x2="235.36" y2="375.80" stroke="#3a3a3a" stroke-width="1"/>
<line x1="238.89" y1="373.60" x2="238.89" y2="375.80" stroke="#3a3a3a" stroke-width="1"/>
<line x1="242.41" y1="373.60" x2="242.41" y2="375.80" stroke="#3a3a3a" stroke-width="1"/>
<line x1="245.94" y1="373.60" x2="245.94" y2="375.80" stroke="#3a3a3a" stroke-width="1"/>
<line x1="249.46" y1="373.60" x2="249.46" y2="378.10" stroke="#3a3a3a" stroke-width="1"/>
<line x1="252.99" y1="373.60" x2="252.99" y2="375.80" stroke="#3a3a3a" stroke-width="1"/>
<line x1="256.51" y1="373.60" x2="256.51" y2="375.80" stroke="#3a3a3a" stroke-width="1"/>
<line x1="260.04" y1="373.60" x2="260.04" y2="375.80" stroke="#3a3a3a" stroke-width="1"/>
<line x1="263.56" y1="373.60" x2="263.56" y2="375.80" stroke="#3a3a3a" stroke-width="1"/>
<line x1="267.09" y1="373.60" x2="267.09" y2="378.10" stroke="#3a3a3a" stroke-width="1"/>
<line x1="270.62" y1="373.60" x2="270.62" y2="375.80" stroke="#3a3a3a" stroke-width="1"/>
<line x1="274.14" y1="373.60" x2="274.14" y2="375.80" stroke="#3a3a3a" stroke-width="1"/>
<line x1="277.67" y1="373.60" x2="277.67" y2="375.80" stroke="#3a3a3a" stroke-width="1"/>
<line x1="281.19" y1="373.60" x2="281.19" y2="375.80" stroke="#3a3a3a" stroke-width="1"/>
<line x1="284.72" y1="373.60" x2="284.72" y2="378.10" stroke="#3a3a3a" stroke-width="1"/>
<line x1="288.24" y1="373.60" x2="288.24" y2="375.80" stroke="#3a3a3a" stroke-width="1"/>
<line x1="291.77" y1="373.60" x2="291.77" y2="375.80" stroke="#3a3a3a" stroke-width="1"/>
<line x1="295.29" y1="373.60" x2="295.29" y2="375.80" stroke="#3a3a3a" stroke-width="1"/>
<line x1="298.82" y1="373.60" x2="298.82" y2="375.80" stroke="#3a3a3a" stroke-width="1"/>
<line x1="302.34" y1="373.60" x2="302.34" y2="378.10" stroke="#3a3a3a" stroke-width="1"/>
<line x1="305.87" y1="373.60" x2="305.87" y2="375.80" stroke="#3a3a3a" stroke-width="1"/>
<line x1="309.40" y1="373.60" x2="309.40" y2="375.80" stroke="#3a3a3a" stroke-width="1"/>
<line x1="312.92" y1="373.60" x2="312.92" y2="375.80" stroke="#3a3a3a" stroke-width="1"/>
<line x1="316.45" y1="373.60" x2="316.45" y2="375.80" stroke="#3a3a3a" stroke-width="1"/>
<line x1="319.97" y1="373.60" x2="319.97" y2="378.10" stroke="#3a3a3a" stroke-width="1"/>
<line x1="323.50" y1="373.60" x2="323.50" y2="375.80" stroke="#3a3a3a" stroke-width="1"/>
<line x1="327.02" y1="373.60" x2="327.02" y2="375.80" stroke="#3a3a3a" stroke-width="1"/>
<line x1="330.55" y1="373.60" x2="330.55" y2="375.80" stroke="#3a3a3a" stroke-width="1"/>
<line x1="334.07" y1="373.60" x2="334.07" y2="375.80" stroke="#3a3a3a" stroke-width="1"/>
<line x1="337.60" y1="373.60" x2="337.60" y2="378.10" stroke="#3a3a3a" stroke-width="1"/>
<text x="15.15" y="388.20" font-family="Liberation Sans" font-size="10.61" font-weight="normal" fill="#111" stroke="#111" stroke-width="0.3" textLength="10.30" lengthAdjust="spacingAndGlyphs">50</text>
<text x="47.83" y="388.20" font-family="Liberation Sans" font-size="10.61" font-weight="normal" fill="#111" stroke="#111" stroke-width="0.3" textLength="15.45" lengthAdjust="spacingAndGlyphs">100</text>
<text x="83.09" y="388.20" font-family="Liberation Sans" font-size="10.61" font-weight="normal" fill="#111" stroke="#111" stroke-width="0.3" textLength="15.45" lengthAdjust="spacingAndGlyphs">150</text>
<text x="118.34" y="388.20" font-family="Liberation Sans" font-size="10.61" font-weight="normal" fill="#111" stroke="#111" stroke-width="0.3" textLength="15.45" lengthAdjust="spacingAndGlyphs">200</text>
<text x="153.60" y="388.20" font-family="Liberation Sans" font-size="10.61" font-weight="normal" fill="#111" stroke="#111" stroke-width="0.3" textLength="15.45" lengthAdjust="spacingAndGlyphs">250</text>
<text x="188.85" y="388.20" font-family="Liberation Sans" font-size="10.61" font-weight="normal" fill="#111" stroke="#111" stroke-width="0.3" textLength="15.45" lengthAdjust="spacingAndGlyphs">300</text>
<text x="224.11" y="388.20" font-family="Liberation Sans" font-size="10.61" font-weight="normal" fill="#111" stroke="#111" stroke-width="0.3" textLength="15.45" lengthAdjust="spacingAndGlyphs">350</text>
<text x="259.36" y="388.20" font-family="Liberation Sans" font-size="10.61" font-weight="normal" fill="#111" stroke="#111" stroke-width="0.3" textLength="15.45" lengthAdjust="spacingAndGlyphs">400</text>
<text x="294.62" y="388.20" font-family="Liberation Sans" font-size="10.61" font-weight="normal" fill="#111" stroke="#111" stroke-width="0.3" textLength="15.45" lengthAdjust="spacingAndGlyphs">450</text>
<text x="329.87" y="388.20" font-family="Liberation Sans" font-size="10.61" font-weight="normal" fill="#111" stroke="#111" stroke-width="0.3" textLength="15.45" lengthAdjust="spacingAndGlyphs">500</text>
<text x="0.60" y="274.10" font-family="Liberation Sans" font-size="9.36" font-weight="normal" fill="#111" stroke="#111" stroke-width="0.3" textLength="15.00" lengthAdjust="spacingAndGlyphs">100</text>
<text x="10.90" y="376.50" font-family="Liberation Sans" font-size="9.78" font-weight="normal" fill="#111" stroke="#111" stroke-width="0.3" textLength="4.70" lengthAdjust="spacingAndGlyphs">0</text>
<text transform="translate(16.2,322.0) rotate(-90)" font-family="Liberation Sans" font-size="9.4" fill="#111" x="-3.80" y="0" textLength="7.6" lengthAdjust="spacingAndGlyphs">%</text>
<text x="342.00" y="377.50" font-family="Liberation Sans" font-size="9.8" font-weight="normal" fill="#111" stroke="#111" stroke-width="0.3" textLength="15.70" lengthAdjust="spacingAndGlyphs">m/z</text>
<text x="28.10" y="272.30" font-family="Liberation Serif" font-size="15.8" font-weight="bold" fill="#111" stroke="#111" stroke-width="0.2" textLength="7.10" lengthAdjust="spacingAndGlyphs">c</text>
<line x1="88.60" y1="370.40" x2="88.60" y2="373.60" stroke="#555" stroke-width="1.0"/>
<line x1="90.40" y1="365.50" x2="90.40" y2="373.60" stroke="#555" stroke-width="1.0"/>
<line x1="98.70" y1="367.60" x2="98.70" y2="373.60" stroke="#555" stroke-width="1.0"/>
<line x1="100.30" y1="270.80" x2="100.30" y2="373.60" stroke="#2a2a2a" stroke-width="1.0"/>
<line x1="104.80" y1="369.70" x2="104.80" y2="373.60" stroke="#555" stroke-width="1.0"/>
<line x1="105.30" y1="369.50" x2="105.30" y2="373.60" stroke="#555" stroke-width="1.0"/>
<line x1="112.10" y1="370.40" x2="112.10" y2="373.60" stroke="#555" stroke-width="1.0"/>
<line x1="114.70" y1="367.80" x2="114.70" y2="373.60" stroke="#555" stroke-width="1.0"/>
<line x1="121.50" y1="370.40" x2="121.50" y2="373.60" stroke="#555" stroke-width="1.0"/>
<line x1="130.00" y1="357.60" x2="130.00" y2="373.60" stroke="#2a2a2a" stroke-width="1.0"/>
<line x1="143.40" y1="371.00" x2="143.40" y2="373.60" stroke="#555" stroke-width="1.0"/>
<line x1="157.60" y1="371.00" x2="157.60" y2="373.60" stroke="#555" stroke-width="1.0"/>
<line x1="164.70" y1="371.00" x2="164.70" y2="373.60" stroke="#555" stroke-width="1.0"/>
<line x1="186.50" y1="364.30" x2="186.50" y2="373.60" stroke="#555" stroke-width="1.0"/>
<line x1="204.70" y1="369.50" x2="204.70" y2="373.60" stroke="#555" stroke-width="1.0"/>
<line x1="214.60" y1="369.50" x2="214.60" y2="373.60" stroke="#555" stroke-width="1.0"/>
<line x1="224.30" y1="330.40" x2="224.30" y2="373.60" stroke="#2a2a2a" stroke-width="1.0"/>
<line x1="234.10" y1="364.10" x2="234.10" y2="373.60" stroke="#555" stroke-width="1.0"/>
<line x1="237.50" y1="370.00" x2="237.50" y2="373.60" stroke="#555" stroke-width="1.0"/>
<line x1="240.90" y1="370.00" x2="240.90" y2="373.60" stroke="#555" stroke-width="1.0"/>
<line x1="245.50" y1="369.20" x2="245.50" y2="373.60" stroke="#555" stroke-width="1.0"/>
<line x1="254.60" y1="371.00" x2="254.60" y2="373.60" stroke="#555" stroke-width="1.0"/>
<line x1="263.20" y1="368.10" x2="263.20" y2="373.60" stroke="#555" stroke-width="1.0"/>
<line x1="283.50" y1="307.20" x2="283.50" y2="373.60" stroke="#2a2a2a" stroke-width="1.0"/>
<line x1="293.00" y1="369.00" x2="293.00" y2="373.60" stroke="#555" stroke-width="1.0"/>
<line x1="100.60" y1="342.00" x2="100.60" y2="373.60" stroke="#2a2a2a" stroke-width="1.5"/>
<line x1="100.80" y1="363.20" x2="100.80" y2="373.60" stroke="#555" stroke-width="2.2"/>
<line x1="283.70" y1="335.30" x2="283.70" y2="373.60" stroke="#2a2a2a" stroke-width="1.5"/>
<line x1="284.00" y1="363.40" x2="284.00" y2="373.60" stroke="#555" stroke-width="2.4"/>
<line x1="224.50" y1="347.40" x2="224.50" y2="373.60" stroke="#2a2a2a" stroke-width="1.5"/>
<polyline points="106.20,337.40 100.50,341.80" fill="none" stroke="#2a2a2a" stroke-width="1.0"/>
<polyline points="107.00,350.50 101.40,353.20" fill="none" stroke="#2a2a2a" stroke-width="1.0"/>
<polyline points="135.90,366.10 131.70,368.70 131.70,373.60" fill="none" stroke="#2a2a2a" stroke-width="1.0"/>
<polyline points="229.90,342.70 225.00,347.40" fill="none" stroke="#2a2a2a" stroke-width="1.0"/>
<polyline points="288.40,325.50 283.90,328.80" fill="none" stroke="#2a2a2a" stroke-width="1.0"/>
<polyline points="289.30,358.90 284.70,363.50" fill="none" stroke="#2a2a2a" stroke-width="1.0"/>
<polyline points="313.00,367.30 318.80,370.60 318.80,373.60" fill="none" stroke="#2a2a2a" stroke-width="1.0"/>
<line x1="322.70" y1="368.00" x2="322.70" y2="373.60" stroke="#555" stroke-width="1.0"/>
<text x="93.50" y="268.70" font-family="Liberation Sans" font-size="10.06" font-weight="normal" fill="#111" stroke="#111" stroke-width="0.3" textLength="13.90" lengthAdjust="spacingAndGlyphs">163</text>
<text x="101.60" y="335.70" font-family="Liberation Sans" font-size="10.06" font-weight="normal" fill="#111" stroke="#111" stroke-width="0.3" textLength="13.10" lengthAdjust="spacingAndGlyphs">163</text>
<text x="107.00" y="351.90" font-family="Liberation Sans" font-size="10.06" font-weight="normal" fill="#111" stroke="#111" stroke-width="0.3" textLength="13.30" lengthAdjust="spacingAndGlyphs">164</text>
<text x="83.70" y="363.95" font-family="Liberation Sans" font-size="10.06" font-weight="normal" fill="#111" stroke="#111" stroke-width="0.3" textLength="13.90" lengthAdjust="spacingAndGlyphs">149</text>
<text x="107.90" y="366.15" font-family="Liberation Sans" font-size="10.06" font-weight="normal" fill="#111" stroke="#111" stroke-width="0.3" textLength="13.60" lengthAdjust="spacingAndGlyphs">184</text>
<text x="122.70" y="356.30" font-family="Liberation Sans" font-size="10.06" font-weight="normal" fill="#111" stroke="#111" stroke-width="0.3" textLength="13.60" lengthAdjust="spacingAndGlyphs">205</text>
<text x="136.30" y="367.65" font-family="Liberation Sans" font-size="10.06" font-weight="normal" fill="#111" stroke="#111" stroke-width="0.3" textLength="14.10" lengthAdjust="spacingAndGlyphs">206</text>
<text x="157.60" y="367.90" font-family="Liberation Sans" font-size="10.06" font-weight="normal" fill="#111" stroke="#111" stroke-width="0.3" textLength="14.20" lengthAdjust="spacingAndGlyphs">255</text>
<text x="179.30" y="362.05" font-family="Liberation Sans" font-size="10.06" font-weight="normal" fill="#111" stroke="#111" stroke-width="0.3" textLength="14.20" lengthAdjust="spacingAndGlyphs">286</text>
<text x="197.60" y="367.45" font-family="Liberation Sans" font-size="10.06" font-weight="normal" fill="#111" stroke="#111" stroke-width="0.3" textLength="13.90" lengthAdjust="spacingAndGlyphs">311</text>
<text x="217.10" y="328.85" font-family="Liberation Sans" font-size="10.06" font-weight="normal" fill="#111" stroke="#111" stroke-width="0.3" textLength="13.90" lengthAdjust="spacingAndGlyphs">339</text>
<text x="225.30" y="340.65" font-family="Liberation Sans" font-size="10.06" font-weight="normal" fill="#111" stroke="#111" stroke-width="0.3" textLength="14.30" lengthAdjust="spacingAndGlyphs">340</text>
<text x="227.00" y="361.90" font-family="Liberation Sans" font-size="10.06" font-weight="normal" fill="#111" stroke="#111" stroke-width="0.3" textLength="13.90" lengthAdjust="spacingAndGlyphs">353</text>
<text x="256.40" y="366.15" font-family="Liberation Sans" font-size="10.06" font-weight="normal" fill="#111" stroke="#111" stroke-width="0.3" textLength="13.70" lengthAdjust="spacingAndGlyphs">395</text>
<text x="276.00" y="305.45" font-family="Liberation Sans" font-size="10.06" font-weight="normal" fill="#111" stroke="#111" stroke-width="0.3" textLength="14.50" lengthAdjust="spacingAndGlyphs">423</text>
<text x="284.40" y="322.35" font-family="Liberation Sans" font-size="10.06" font-weight="normal" fill="#111" stroke="#111" stroke-width="0.3" textLength="14.00" lengthAdjust="spacingAndGlyphs">423</text>
<text x="284.70" y="357.05" font-family="Liberation Sans" font-size="10.06" font-weight="normal" fill="#111" stroke="#111" stroke-width="0.3" textLength="14.70" lengthAdjust="spacingAndGlyphs">425</text>
<text x="300.60" y="368.00" font-family="Liberation Sans" font-size="10.06" font-weight="normal" fill="#111" stroke="#111" stroke-width="0.3" textLength="13.40" lengthAdjust="spacingAndGlyphs">475</text>
<text x="315.00" y="367.45" font-family="Liberation Sans" font-size="10.06" font-weight="normal" fill="#111" stroke="#111" stroke-width="0.3" textLength="13.50" lengthAdjust="spacingAndGlyphs">478</text>
<polygon points="125.40,267.80 121.10,264.00 121.10,265.40 111.50,265.40 111.50,269.60 121.10,269.60 121.10,271.60" fill="#fff" stroke="#ff3a3a" stroke-width="0.9" stroke-linejoin="miter"/>
<text x="129.20" y="271.30" font-family="Liberation Sans" font-size="10.8" font-weight="normal" fill="#ff1c1c" stroke="#ff1c1c" stroke-width="0.15" textLength="87.30" lengthAdjust="spacingAndGlyphs">Bromo-pentanal</text>
<text x="189.90" y="307.30" font-family="Liberation Sans" font-size="11.3" font-weight="normal" fill="#ff1c1c" stroke="#ff1c1c" stroke-width="0.15" textLength="64.80" lengthAdjust="spacingAndGlyphs">OH-Tri-BDEs</text>
<polygon points="257.60,303.25 261.60,299.60 261.60,301.40 271.10,301.40 271.10,305.10 261.60,305.10 261.60,306.90" fill="#fff" stroke="#ff3a3a" stroke-width="0.9" stroke-linejoin="miter"/>
</svg>
</body></html>
